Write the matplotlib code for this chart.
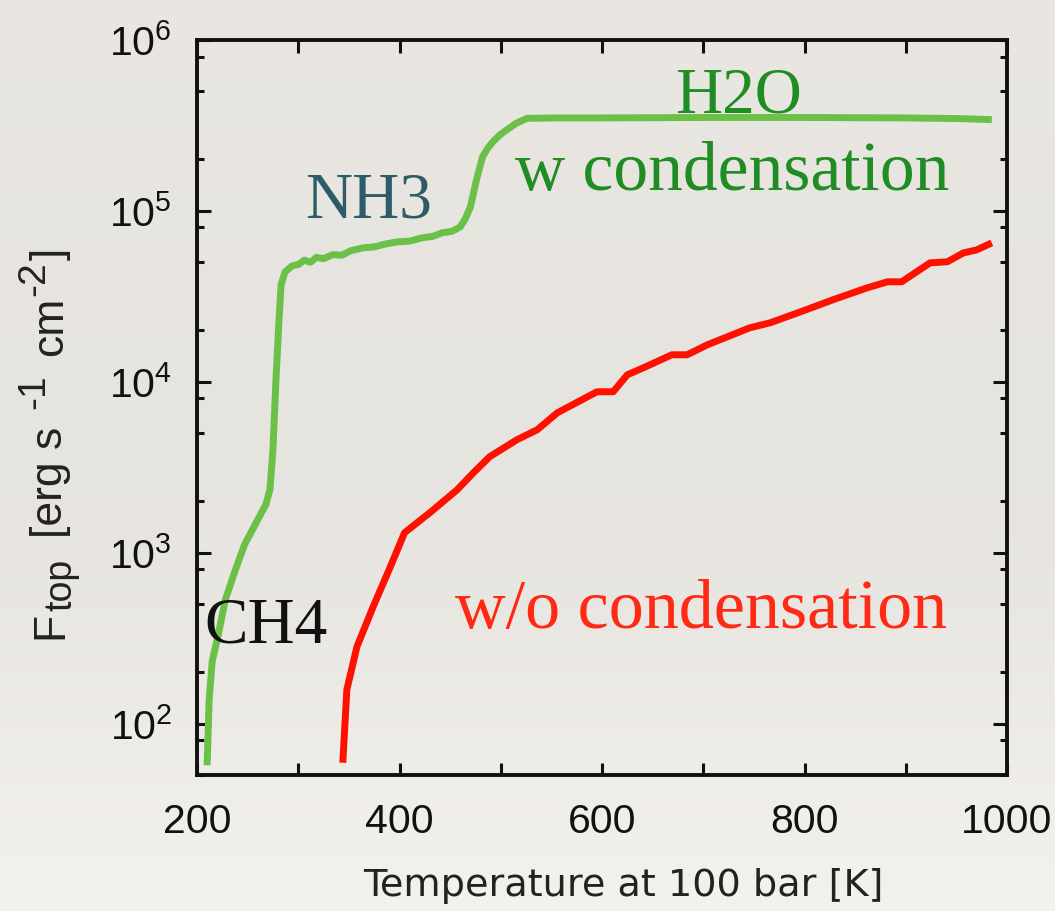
import numpy as np
import matplotlib
matplotlib.use("Agg")
import matplotlib.pyplot as plt
from matplotlib.ticker import LogLocator, FixedLocator, NullFormatter, FuncFormatter

# ---- data -------------------------------------------------------------
# Flux at the top vs. temperature at 100 bar, with condensation
t_cond = [210, 212, 215, 221, 228, 238, 247, 260, 268, 272, 275, 278, 281,
          283, 287, 294, 300, 306, 312, 318, 325, 334, 343, 352, 364, 375,
          386, 398, 410, 422, 433, 442, 452, 460, 465, 470, 476, 482, 487,
          492, 499, 506, 515, 526, 556, 600, 650, 700, 750, 800, 850, 900,
          950, 985]
f_cond = [57, 138, 231, 331, 531, 796, 1115, 1560, 1910, 2335, 4000, 10300,
          23000, 36900, 44000, 47700, 48500, 51500, 50000, 53500, 52500,
          55500, 55000, 58500, 60800, 61500, 64000, 65900, 66500, 69500,
          71000, 74400, 76000, 80600, 90000, 105400, 151700, 207000, 232000,
          253000, 278000, 298000, 325000, 348000, 350000, 350000, 351000,
          352000, 352000, 352000, 351000, 350000, 347000, 342000]

# Flux at the top vs. temperature at 100 bar, without condensation
t_dry = [344, 348, 358, 374, 391, 405, 430, 457, 473, 489, 516, 536, 556,
         595, 611, 625, 641, 669, 684, 704, 746, 766, 796, 828, 862, 882,
         896, 924, 941, 957, 970, 985]
f_dry = [59, 158, 282, 483, 828, 1309, 1714, 2335, 2936, 3640, 4580, 5240,
         6590, 8740, 8740, 10990, 12080, 14390, 14390, 16450, 20700, 22130,
         25660, 30180, 35480, 38460, 38460, 49660, 50350, 56780, 59100,
         65000]

x_major = [200, 400, 600, 800, 1000]
x_minor = [300, 500, 700, 900]
y_subs = (2.0, 5.0, 8.0)

# y-axis title pieces: (text, font size, role, gap after in px)
ylabel_parts = [("F", 32, "base", 1), ("top", 27, "sub", 20),
                ("[erg s", 32, "base", 18), ("-1", 28, "sup", 18),
                ("cm", 32, "base", 1), ("-2", 28, "sup", 2),
                ("]", 32, "base", 0)]

# ---- figure -----------------------------------------------------------
W, H, DPI = 1055, 911, 100
fig = plt.figure(figsize=(W / DPI, H / DPI), dpi=DPI)
fig.patch.set_facecolor("#ebe8e3")

# soft paper-like backdrop
bg = fig.add_axes([0, 0, 1, 1], zorder=-10)
yy, xx = np.mgrid[0:1:300j, 0:1:300j]
top = np.array([0.918, 0.908, 0.890])
mid = np.array([0.905, 0.895, 0.878])
bot = np.array([0.955, 0.948, 0.930])
w_mid = np.exp(-((yy - 0.45) / 0.35) ** 2)
w_bot = np.clip((yy - 0.55) / 0.45, 0, 1) ** 1.5
img = top * (1 - w_mid[..., None]) + mid * w_mid[..., None]
img = img * (1 - w_bot[..., None]) + bot * w_bot[..., None]
bg.imshow(img, aspect="auto", extent=[0, 1, 0, 1], origin="upper")
bg.axis("off")

ax = fig.add_axes([197 / W, 1 - 775 / H, (1007 - 197) / W, (775 - 40) / H])
ax.patch.set_alpha(0)

green = "#6cc048"
red = "#ff1000"
ax.plot(t_cond, f_cond, color=green, lw=5.0, solid_joinstyle="round",
        solid_capstyle="butt", zorder=3)
ax.plot(t_dry, f_dry, color=red, lw=5.0, solid_joinstyle="round",
        solid_capstyle="butt", zorder=3)

ax.set_yscale("log")
ax.set_xlim(200, 1000)
ax.set_ylim(50, 1e6)

sans = ["Liberation Sans", "DejaVu Sans"]
serif = ["Liberation Serif", "DejaVu Serif"]

ax.xaxis.set_major_locator(FixedLocator(x_major))
ax.xaxis.set_minor_locator(FixedLocator(x_minor))
ax.yaxis.set_major_locator(LogLocator(base=10, numticks=10))
ax.yaxis.set_minor_locator(LogLocator(base=10, subs=y_subs, numticks=20))
ax.yaxis.set_minor_formatter(NullFormatter())
ax.yaxis.set_major_formatter(
    FuncFormatter(lambda v, p: r"$\mathregular{10^{%d}}$" % round(np.log10(v))))

for s in ax.spines.values():
    s.set_linewidth(2.8)
    s.set_color("#111111")

ax.tick_params(axis="both", which="both", direction="in", top=True,
               right=True, color="#111111", width=2.2)
ax.tick_params(axis="x", which="both", length=9, pad=20)
ax.tick_params(axis="y", which="major", length=10, pad=18)
ax.tick_params(axis="y", which="minor", length=5)
for lab in ax.get_xticklabels() + ax.get_yticklabels():
    lab.set_fontfamily(sans)
    lab.set_fontsize(29.5)
    lab.set_color("#111111")

ax.set_xlabel("Temperature at 100 bar [K]", fontsize=27.5,
              family=["DejaVu Sans"], color="#222222")
ax.xaxis.set_label_coords(0.526, -0.127)

# y-axis title, laid out piece by piece (bottom to top) in figure pixels
renderer = fig.canvas.get_renderer()
base_x = {"base": 62, "sub": 71, "sup": 44}
texts = []
for txt, size, role, _ in ylabel_parts:
    t = fig.text(base_x[role] / W, 0, txt, fontsize=size, family=sans,
                 color="#222222", rotation=90, rotation_mode="anchor",
                 ha="left", va="baseline")
    texts.append(t)
widths = [t.get_window_extent(renderer).height for t in texts]
total = sum(widths) + sum(p[3] for p in ylabel_parts)
y_cur = 443 + total / 2
for t, w, part in zip(texts, widths, ylabel_parts):
    t.set_y(1 - y_cur / H)
    y_cur -= w + part[3]

# species / case annotations
ax.text(369, 9.2e4, "NH3", family=serif, fontsize=47, color="#2d5b68",
        ha="center", va="baseline")
ax.text(735, 3.74e5, "H2O", family=serif, fontsize=47, color="#1f8c24",
        ha="center", va="baseline")
ax.text(729, 1.33e5, "w condensation", family=serif, fontsize=50,
        color="#1f8c24", ha="center", va="baseline")
ax.text(207, 298, "CH4", family=serif, fontsize=47, color="#111111",
        ha="left", va="baseline")
ax.text(698, 364, "w/o condensation", family=serif, fontsize=50.5,
        color="#ff2a14", ha="center", va="baseline")

fig.savefig("out.png", dpi=DPI, facecolor=fig.get_facecolor())
